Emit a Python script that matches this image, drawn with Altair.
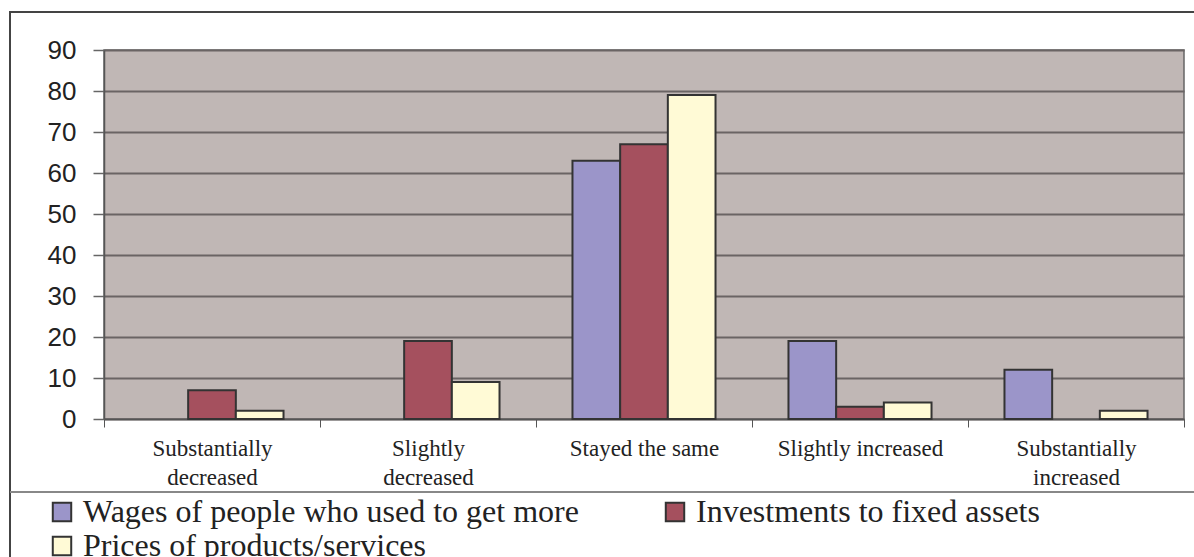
import altair as alt
import pandas as pd

categories = ["Substantially|decreased", "Slightly|decreased", "Stayed the same",
              "Slightly increased", "Substantially|increased"]
series = ["Wages of people who used to get more", "Investments to fixed assets",
          "Prices of products/services"]
wages = [0, 0, 63, 19, 12]
investments = [7, 19, 67, 3, 0]
prices = [2, 9, 79, 4, 2]
colors = ["#9B95C9", "#A5505E", "#FFFAD6"]

rows = []
for name, vals in zip(series, [wages, investments, prices]):
    for c, v in zip(categories, vals):
        rows.append({"category": c, "series": name, "value": v})
df = pd.DataFrame(rows)

W, H = 1080, 369
SERIF = "Liberation Serif"

bars = alt.Chart(df).transform_filter("datum.value > 0").mark_bar(
    stroke="#333333", strokeWidth=2
).encode(
    x=alt.X("category:N", sort=categories, title=None,
            scale=alt.Scale(domain=categories, paddingInner=0, paddingOuter=0),
            axis=alt.Axis(labelAngle=0, tickBand="extent", labelExpr="split(datum.label, '|')",
                          labelFont=SERIF, labelFontSize=23, labelColor="#222222",
                          labelLineHeight=29, labelPadding=10, tickSize=8, tickColor="#555555",
                          domainColor="#555555", domainWidth=1.5, labelBaseline="top",
                          labelLimit=210)),
    xOffset=alt.XOffset("series:N", sort=series,
                        scale=alt.Scale(domain=series, paddingOuter=0.765, paddingInner=0)),
    y=alt.Y("value:Q", title=None,
            scale=alt.Scale(domain=[0, 90], nice=False),
            axis=alt.Axis(values=list(range(0, 91, 10)), labelFont="Liberation Sans",
                          labelFontSize=26, labelColor="#222222", labelPadding=17,
                          tickSize=11, tickColor="#666666", tickWidth=1.5,
                          gridColor="#6a6464", gridWidth=2, domainColor="#555555",
                          domainWidth=1.5)),
    color=alt.Color("series:N", sort=series,
                    scale=alt.Scale(domain=series, range=colors),
                    legend=alt.Legend(title=None, orient="none", legendX=-58, legendY=446,
                                      columns=2, direction="horizontal",
                                      symbolType="square", symbolSize=340,
                                      symbolStrokeColor="#333333", symbolStrokeWidth=2,
                                      labelFont=SERIF, labelFontSize=32,
                                      labelColor="#222222", columnPadding=80, rowPadding=2,
                                      labelLimit=700, symbolOpacity=1, labelOffset=5)),
)

frame = alt.Chart(pd.DataFrame({"k": [0]})).mark_rect(
    fillOpacity=0, stroke="#444444", strokeWidth=2
).encode(x=alt.value(-94), x2=alt.value(1110), y=alt.value(-38), y2=alt.value(530))

sep = alt.Chart(pd.DataFrame({"k": [0]})).mark_rule(
    color="#888888", strokeWidth=2
).encode(x=alt.value(-94), x2=alt.value(1110), y=alt.value(442))

chart = alt.layer(bars, frame, sep).properties(
    width=W, height=H,
    autosize=alt.AutoSizeParams(type="none"),
    padding={"left": 104, "top": 50, "right": 10, "bottom": 138},
    background="white",
    view=alt.ViewBackground(fill="#C0B7B5", stroke="#666666", strokeWidth=1.5),
)

chart.save("out.html", embed_options={"renderer": "svg", "actions": False})
